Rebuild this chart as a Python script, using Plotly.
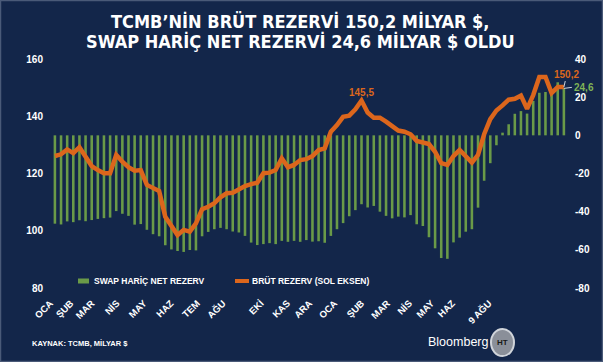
import plotly.graph_objects as go

# Weekly data, Jan 2023 - 9 Aug 2024
net_ex_swap = [-46.3, -46.7, -45.1, -45.5, -44.5, -45.0, -44.4, -43.8, -43.4, -43.1,
               -39.7, -41.1, -42.2, -46.8, -46.5, -49.5, -51.8, -52.9, -57.6, -59.8,
               -60.6, -61.1, -60.1, -60.3, -52.9, -50.6, -49.2, -48.5, -49.2, -50.4,
               -50.9, -52.7, -56.2, -57.5, -57.0, -56.5, -57.0, -55.3, -55.8, -55.3,
               -55.8, -54.9, -55.7, -55.5, -56.3, -52.7, -49.2, -46.0, -42.4, -39.2,
               -36.1, -37.8, -37.0, -40.0, -42.2, -43.5, -42.6, -43.0, -41.8, -46.6,
               -47.5, -53.4, -59.2, -64.3, -64.7, -56.1, -53.6, -50.5, -49.2, -37.9,
               -23.8, -14.6, -5.2, 1.4, 5.8, 11.3, 12.7, 11.4, 18.0, 22.3,
               22.7, 21.8, 27.8, 24.6]
gross = [126.1, 126.7, 128.4, 127.1, 129.2, 125.9, 122.6, 121.2, 120.1, 120.1,
         126.5, 124.1, 122.2, 121.0, 121.2, 116.0, 114.8, 113.9, 104.9, 101.4,
         98.5, 100.3, 99.7, 102.6, 107.5, 108.4, 109.6, 111.7, 113.1, 113.3,
         114.5, 115.6, 116.3, 116.8, 120.1, 120.3, 121.2, 125.3, 122.2, 123.0,
         124.7, 125.0, 126.1, 128.2, 128.8, 134.6, 136.9, 139.8, 140.2, 142.4,
         145.5, 141.3, 139.5, 139.5, 138.1, 136.4, 135.0, 134.6, 133.7, 131.4,
         130.8, 130.3, 127.6, 123.6, 123.0, 126.1, 128.2, 126.2, 123.8, 126.5,
         133.7, 139.0, 142.0, 143.8, 145.8, 146.1, 147.2, 142.6, 147.4, 153.7,
         153.7, 148.1, 150.2, 150.2]
weeks = list(range(len(gross)))

tick_labels = ["OCA", "ŞUB", "MAR", "NİS", "MAY", "HAZ", "TEM", "AĞU", "EKİ", "KAS",
               "ARA", "OCA", "ŞUB", "MAR", "NİS", "MAY", "HAZ", "9 AĞU"]
tick_pos = [-0.75, 2.6, 6.0, 10.1, 14.5, 18.9, 23.2, 27.4, 33.6, 37.9,
            41.5, 45.6, 50.0, 54.2, 57.8, 61.4, 64.8, 70.8]
left_ticks = [80, 100, 120, 140, 160]
right_ticks = [-80, -60, -40, -20, 0, 20, 40]

title_lines = ["TCMB’NİN BRÜT REZERVİ 150,2 MİLYAR $,",
               "SWAP HARİÇ NET REZERVİ 24,6 MİLYAR $ OLDU"]

BG = "#13264a"
GREEN = "#6a9a48"
ORANGE = "#dc661c"
W, H = 603, 362
L, R, T, B = 50, 33, 59, 74
PW, PH = W - L - R, H - T - B
SANS = "Liberation Sans, Arial"


def px(x):
    return (x - L) / PW


def py(y):
    return (H - B - y) / PH


fig = go.Figure()
fig.add_trace(go.Bar(x=weeks, y=net_ex_swap, name="SWAP HARİÇ NET REZERV",
                     marker=dict(color=GREEN, line=dict(width=0)), yaxis="y"))
fig.add_trace(go.Scatter(x=weeks, y=gross, name="BRÜT REZERV (SOL EKSEN)", mode="lines",
                         line=dict(color=ORANGE, width=4.5), yaxis="y2"))

tickfont = dict(family=SANS, size=10, color="white")
xtickfont = dict(family=SANS, size=9.5, color="white")
fig.update_layout(
    width=W, height=H,
    paper_bgcolor=BG, plot_bgcolor=BG,
    margin=dict(l=L, r=R, t=T, b=B),
    bargap=0.58,
    showlegend=False,
    xaxis=dict(range=[-0.8, 84], tickmode="array", tickvals=tick_pos,
               ticktext=[f"<b>{t}</b>" for t in tick_labels],
               tickangle=-45, tickfont=xtickfont, showgrid=False, zeroline=False, showline=False,
               ticks="", ticklabelstandoff=7),
    yaxis=dict(side="right", range=[-80, 40], tickmode="array", tickvals=right_ticks,
               ticktext=[f"<b>{v}</b>" for v in right_ticks], showgrid=False, zeroline=False,
               tickfont=tickfont, ticklabelstandoff=4),
    yaxis2=dict(side="left", overlaying="y", range=[80, 160], tickmode="array", tickvals=left_ticks,
                ticktext=[f"<b>{v}</b>" for v in left_ticks], showgrid=False,
                zeroline=False, tickfont=tickfont, ticklabelstandoff=6),
)

for line, yc in zip(title_lines, [22, 42]):
    fig.add_annotation(xref="paper", yref="paper", x=px(W / 2 - 1), y=py(yc), xanchor="center",
                       yanchor="middle", text=f"<b>{line}</b>", showarrow=False,
                       font=dict(family="DejaVu Sans Condensed, DejaVu Sans", size=18, color="white"))

# manual legend
fig.add_shape(type="rect", xref="paper", yref="paper", x0=px(78), x1=px(89), y0=py(283.5), y1=py(278.5),
              fillcolor=GREEN, line=dict(width=0))
fig.add_annotation(xref="paper", yref="paper", x=px(92), y=py(281), xanchor="left", yanchor="middle",
                   text="<b>SWAP HARİÇ NET REZERV</b>", showarrow=False,
                   font=dict(family=SANS, size=8.5, color="white"))
fig.add_shape(type="rect", xref="paper", yref="paper", x0=px(235), x1=px(249), y0=py(283), y1=py(279),
              fillcolor=ORANGE, line=dict(width=0))
fig.add_annotation(xref="paper", yref="paper", x=px(250), y=py(281), xanchor="left", yanchor="middle",
                   text="<b>BRÜT REZERV (SOL EKSEN)</b>", showarrow=False,
                   font=dict(family=SANS, size=8.5, color="white"))

ann_font = dict(family=SANS, size=10)
fig.add_annotation(x=50, y=145.5, yref="y2", text="<b>145,5</b>", showarrow=False, yshift=8,
                   font=dict(color=ORANGE, **ann_font))
fig.add_annotation(x=83, y=150.2, yref="y2", text="<b>150,2</b>", showarrow=True, arrowhead=0,
                   arrowcolor="#cfd6e0", arrowwidth=1, ax=3, ay=-13,
                   font=dict(color=ORANGE, **ann_font))
fig.add_annotation(x=83, y=24.6, yref="y", text="<b>24,6</b>", showarrow=True, arrowhead=0,
                   arrowcolor="#cfd6e0", arrowwidth=1, ax=8, ay=-1, xanchor="left",
                   font=dict(color="#7fb356", **ann_font))
fig.add_annotation(xref="paper", yref="paper", x=px(30), y=py(343), xanchor="left", yanchor="middle",
                   text="<b>KAYNAK: TCMB, MİLYAR $</b>", showarrow=False,
                   font=dict(family=SANS, size=7.5, color="white"))
fig.add_annotation(xref="paper", yref="paper", x=px(490), y=py(342), xanchor="right", yanchor="middle",
                   text="Bloomberg", showarrow=False,
                   font=dict(family=SANS, size=12.5, color="white"))
fig.add_shape(type="circle", xref="paper", yref="paper",
              x0=px(491), x1=px(514), y0=py(356), y1=py(329),
              fillcolor="#8a8f99", line=dict(color="#d0d4da", width=2))
fig.add_annotation(xref="paper", yref="paper", x=px(502.5), y=py(342.5), xanchor="center", yanchor="middle",
                   text="<b>HT</b>", showarrow=False,
                   font=dict(family=SANS, size=8, color="#1a1a1a"))
fig.add_shape(type="rect", xref="paper", yref="paper",
              x0=px(0.5), x1=px(W - 0.5), y0=py(H - 0.5), y1=py(0.5),
              line=dict(color="#4a5a78", width=1.5), fillcolor="rgba(0,0,0,0)", layer="above")

fig.write_html("out.html", post_script="document.body.style.margin='0';",
               config={"displayModeBar": False})
